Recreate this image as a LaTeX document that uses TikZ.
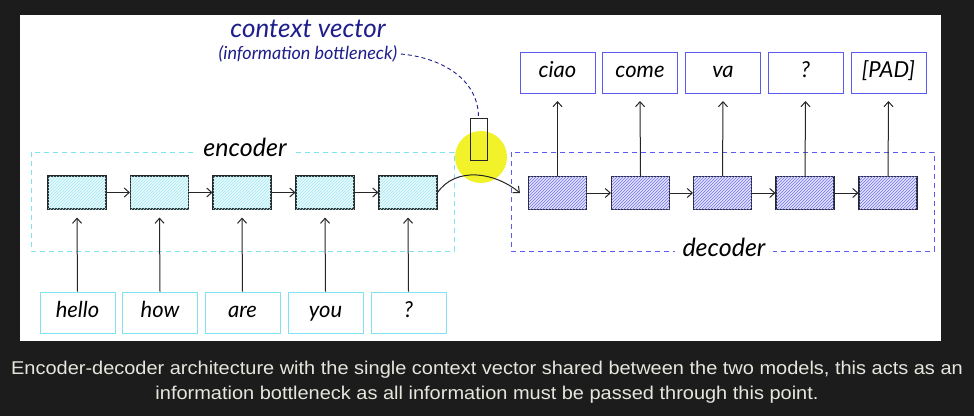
\documentclass[tikz,border=0pt]{standalone}
\usepackage{fontspec}
\setmainfont{Liberation Sans}
\newfontfamily\handfont{Lato}
\newfontfamily\capfont[FakeStretch=1.08]{Liberation Sans}
\usetikzlibrary{arrows.meta,patterns}
\definecolor{bgdark}{HTML}{1C1C1C}
\definecolor{captxt}{HTML}{E6E6DE}
\definecolor{encline}{HTML}{7FE3F2}
\definecolor{encfill}{HTML}{E6F9FC}
\definecolor{enchatch}{HTML}{A6E8F2}
\definecolor{decline}{HTML}{5A5AF0}
\definecolor{decfill}{HTML}{E4E4FF}
\definecolor{dechatch}{HTML}{7070F0}
\definecolor{navy}{HTML}{1E1E8C}
\definecolor{hilite}{HTML}{F2F22A}
\tikzset{
  x=1pt,y=-1pt,
  hand/.style={font=\handfont\itshape\fontsize{22}{24}\selectfont, text=black},
  cellbase/.style={draw=black!85, line width=1.1pt, minimum width=58pt, minimum height=33pt, inner sep=0pt},
  enccell/.style={cellbase, fill=encfill, postaction={pattern=north east lines, pattern color=enchatch}},
  deccell/.style={cellbase, fill=decfill, postaction={pattern=north east lines, pattern color=dechatch}},
  wordbox/.style={hand, line width=1pt, fill=white, minimum width=75pt, minimum height=41pt, inner sep=0pt, text height=13pt, text depth=4pt},
  inbox/.style={wordbox, draw=encline},
  outbox/.style={wordbox, draw=decline},
  flow/.style={draw=black!85, line width=1pt, -{Straight Barb[length=5pt,width=9pt]}},
  encframe/.style={draw=encline, dash pattern=on 5pt off 4pt, line width=1pt},
  decframe/.style={draw=decline, dash pattern=on 5pt off 4pt, line width=1pt},
}
\begin{document}
\begin{tikzpicture}
\fill[bgdark] (0,0) rectangle (974,416);
\useasboundingbox (0,0) rectangle (974,416);
\fill[white] (20,15) rectangle (941,341);

% frames
\draw[encframe] (31,152) rectangle (454,251);
\draw[decframe] (511,152) rectangle (934,251);
\node[hand, font=\handfont\itshape\fontsize{25}{27}\selectfont, fill=white, inner xsep=8pt, inner ysep=1pt] (enclab) at (245,147) {encoder};
\node[hand, font=\handfont\itshape\fontsize{25}{27}\selectfont, fill=white, inner xsep=8pt, inner ysep=1pt] (declab) at (724,247) {decoder};

% highlight and context vector
\fill[hilite] (481,157) circle (26);
\node[draw=black!85, line width=1pt, minimum width=17pt, minimum height=42pt, inner sep=0pt] (ctx) at (478.5,139) {};
\node[font=\handfont\itshape\fontsize{26}{28}\selectfont, text=navy] (cvt) at (308,29) {context vector};
\node[font=\handfont\itshape\fontsize{18}{20}\selectfont, text=navy] (bn) at (308,54) {(information bottleneck)};
\draw[navy, dash pattern=on 4pt off 3pt, line width=0.9pt] (bn.east) to[out=-5,in=90] (ctx.north);

% encoder cells
\foreach \i/\x in {1/77,2/159.5,3/242,4/325,5/408}{
  \node[enccell] (e\i) at (\x,192.5) {};
}
\foreach \i/\x/\t in {1/77.5/hello,2/160/how,3/242.5/are,4/325.5/you,5/408.5/?}{
  \node[inbox] (in\i) at (\x,312.5) {\t};
}
% decoder cells
\foreach \i/\x in {1/557.5,2/640.5,3/722.5,4/805,5/888}{
  \node[deccell] (d\i) at (\x,193) {};
}
\foreach \i/\x/\t in {1/557.5/ciao,2/640/come,3/723/va,4/805.5/?,5/888.5/[PAD]}{
  \node[outbox] (out\i) at (\x,73) {\t};
}

% arrows
\foreach \a/\b in {1/2,2/3,3/4,4/5}{
  \draw[flow] (e\a) -- (e\b);
  \draw[flow] (d\a) -- (d\b);
}
\foreach \i in {1,...,5}{
  \draw[flow] (in\i.north) -- ([yshift=-8pt]e\i.south);
  \draw[flow] (d\i.north) -- ([yshift=-7pt]out\i.south);
}
\draw[flow] (e5.east) to[out=55,in=140] ([xshift=-8pt]d1.west);

% caption
\node[text=captxt, font=\capfont\fontsize{18.5}{25}\selectfont, align=center] (cap) at (487,382)
  {Encoder-decoder architecture with the single context vector shared between the two models, this acts as an\\ information bottleneck as all information must be passed through this point.};
\end{tikzpicture}
\end{document}
